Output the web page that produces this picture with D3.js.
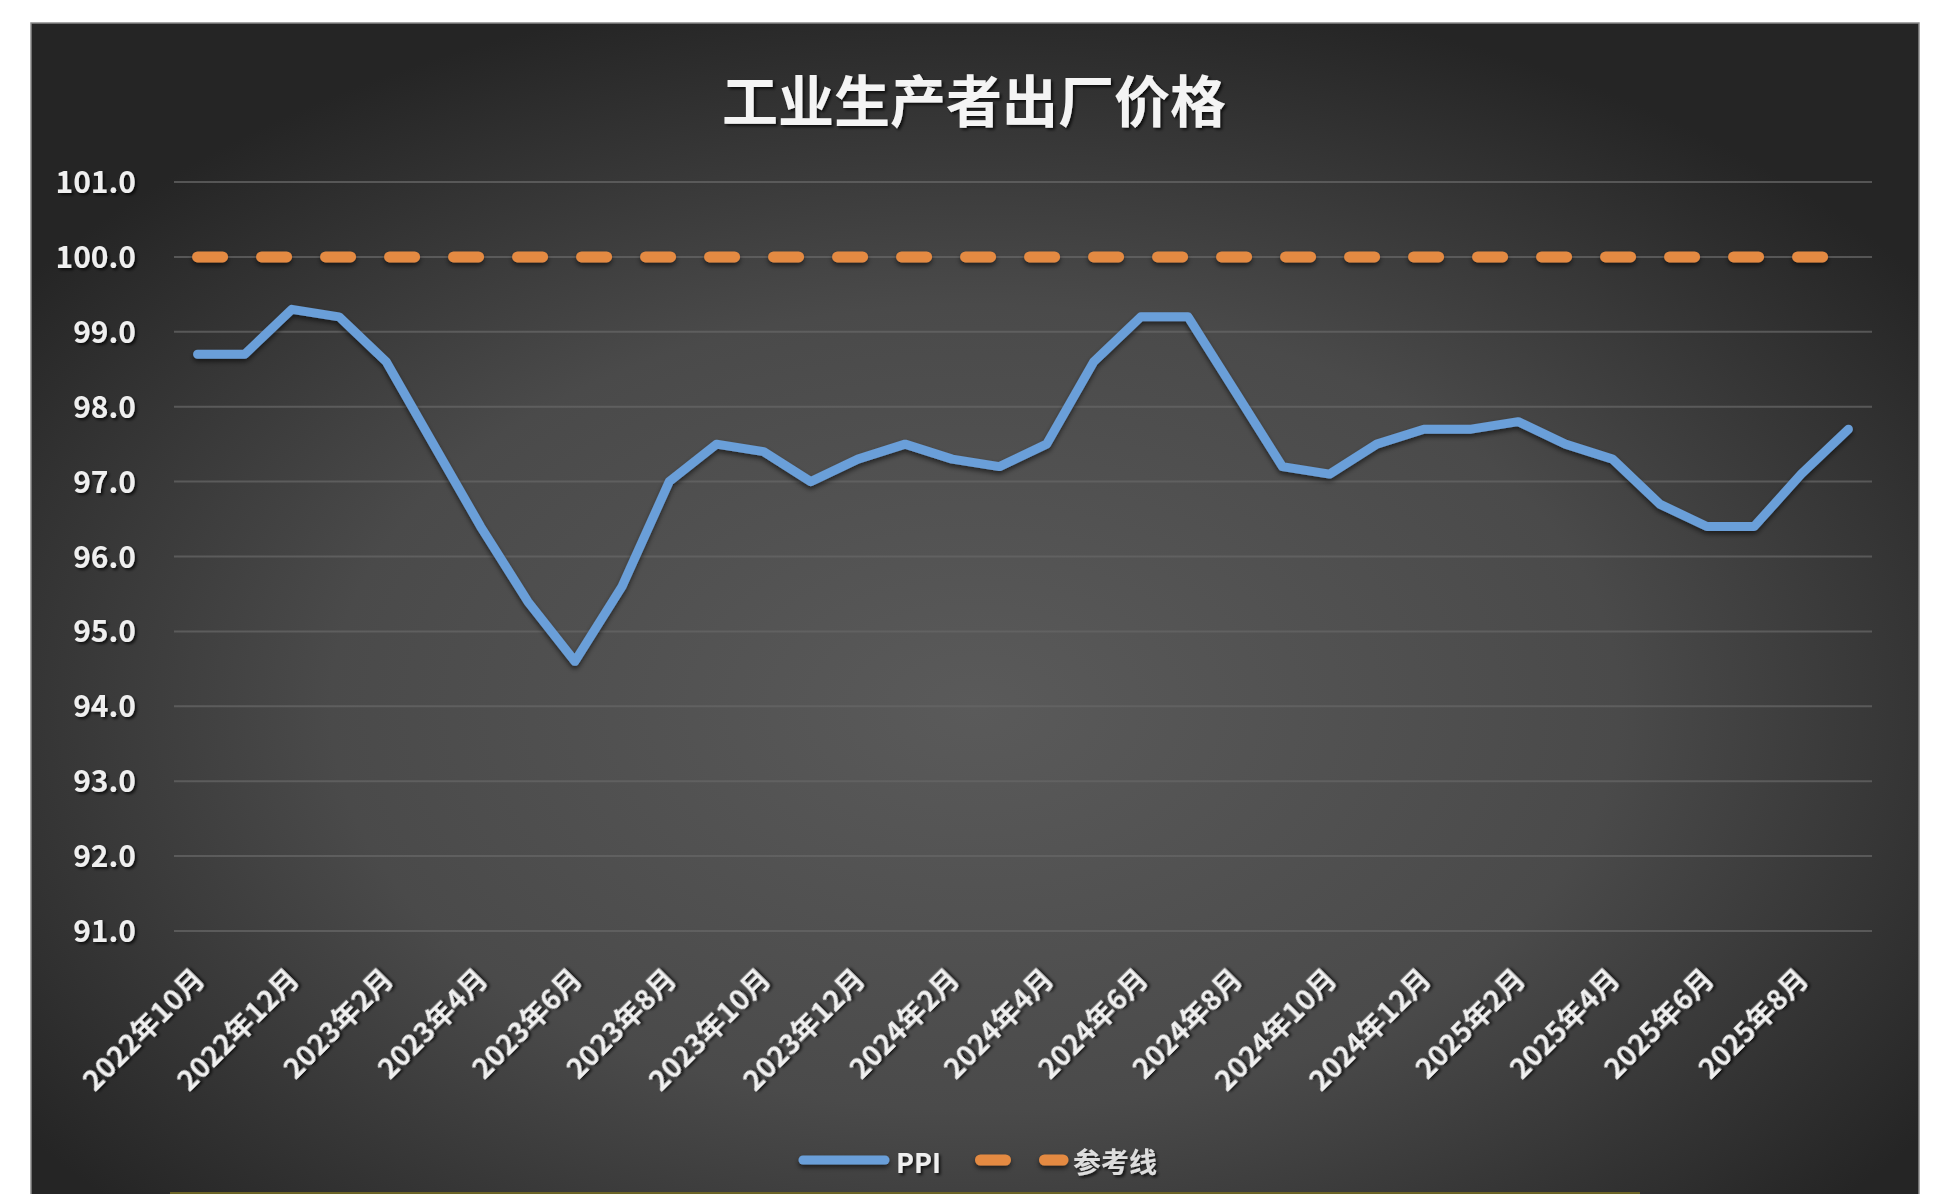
<!DOCTYPE html>
<html>
<head>
<meta charset="utf-8">
<script src="https://cdn.jsdelivr.net/npm/d3@7/dist/d3.min.js"></script>
<style>
  html, body { margin: 0; padding: 0; background: #ffffff; }
  svg { display: block; }
  text { font-family: "Noto Sans CJK SC", "Noto Sans", sans-serif; }
</style>
</head>
<body>
<svg id="chart" width="1948" height="1194"></svg>
<script>
// ---- data ----
const categories = [
  "2022年10月","2022年11月","2022年12月",
  "2023年1月","2023年2月","2023年3月","2023年4月","2023年5月","2023年6月",
  "2023年7月","2023年8月","2023年9月","2023年10月","2023年11月","2023年12月",
  "2024年1月","2024年2月","2024年3月","2024年4月","2024年5月","2024年6月",
  "2024年7月","2024年8月","2024年9月","2024年10月","2024年11月","2024年12月",
  "2025年1月","2025年2月","2025年3月","2025年4月","2025年5月","2025年6月",
  "2025年7月","2025年8月","2025年9月"
];
const ppiValues = [
  98.7, 98.7, 99.3,
  99.2, 98.6, 97.5, 96.4, 95.4, 94.6,
  95.6, 97.0, 97.5, 97.4, 97.0, 97.3,
  97.5, 97.3, 97.2, 97.5, 98.6, 99.2,
  99.2, 98.2, 97.2, 97.1, 97.5, 97.7,
  97.7, 97.8, 97.5, 97.3, 96.7, 96.4,
  96.4, 97.1, 97.7
];
const referenceValues = categories.map(() => 100);
const yTicks = [91, 92, 93, 94, 95, 96, 97, 98, 99, 100, 101];
const xTickLabels = categories.filter((d, i) => i % 2 === 0);
const seriesNames = ["PPI", "参考线"];
const title = "工业生产者出厂价格";

// ---- layout ----
const W = 1948, H = 1194;
const bg = { x: 31, y: 23, w: 1888, h: 1180 };
const plot = { left: 174, right: 1872, top: 182, bottom: 931 };
const blue = "#6b9fd9", orange = "#e48a42", textColor = "#efefef";

const svg = d3.select("#chart");
const defs = svg.append("defs");

const grad = defs.append("radialGradient").attr("id", "bgGrad")
  .attr("cx", "50%").attr("cy", "58%").attr("r", "62%");
grad.append("stop").attr("offset", "0%").attr("stop-color", "#5a5a5a");
grad.append("stop").attr("offset", "55%").attr("stop-color", "#4a4a4a");
grad.append("stop").attr("offset", "100%").attr("stop-color", "#252525");

const lineShadow = defs.append("filter").attr("id", "lineShadow")
  .attr("filterUnits", "userSpaceOnUse")
  .attr("x", 0).attr("y", 0).attr("width", W).attr("height", H);
lineShadow.append("feDropShadow").attr("dx", 0).attr("dy", 3).attr("stdDeviation", 2.5)
  .attr("flood-color", "#000").attr("flood-opacity", 0.55);

const textShadow = defs.append("filter").attr("id", "textShadow")
  .attr("x", "-10%").attr("y", "-30%").attr("width", "120%").attr("height", "160%");
textShadow.append("feDropShadow").attr("dx", 2).attr("dy", 2).attr("stdDeviation", 1.5)
  .attr("flood-color", "#000").attr("flood-opacity", 0.75);

// background
svg.append("rect").attr("x", bg.x).attr("y", bg.y).attr("width", bg.w).attr("height", bg.h)
  .attr("fill", "url(#bgGrad)").attr("stroke", "#8a8a8a").attr("stroke-width", 1.5);
svg.append("line").attr("x1", 170).attr("x2", 1640).attr("y1", 1193).attr("y2", 1193)
  .attr("stroke", "#6b6426").attr("stroke-width", 2);

// scales
const x = d3.scaleBand().domain(categories).range([plot.left, plot.right]).padding(0);
const cx = d => x(d) + x.bandwidth() / 2;
const y = d3.scaleLinear().domain([91, 101]).range([plot.bottom, plot.top]);

// gridlines
svg.append("g").selectAll("line").data(yTicks).join("line")
  .attr("x1", plot.left).attr("x2", plot.right)
  .attr("y1", d => y(d)).attr("y2", d => y(d))
  .attr("stroke", "#666666").attr("stroke-width", 2).attr("stroke-opacity", 0.75);

// y axis
const yAxis = svg.append("g").attr("transform", `translate(136,0)`)
  .call(d3.axisLeft(y).tickValues(yTicks).tickSize(0).tickPadding(0).tickFormat(d3.format(".1f")));
yAxis.select(".domain").remove();
yAxis.selectAll("text")
  .attr("fill", textColor).attr("font-size", 30).attr("font-weight", "bold")
  .attr("font-family", "'Noto Sans CJK SC', sans-serif")
  .attr("filter", "url(#textShadow)").attr("dy", "0.35em").attr("x", 0);

// x axis
const xAxis = svg.append("g").attr("transform", `translate(0,${plot.bottom})`)
  .call(d3.axisBottom(x).tickValues(xTickLabels).tickSize(0).tickPadding(0));
xAxis.select(".domain").remove();
xAxis.selectAll(".tick text")
  .attr("fill", textColor).attr("font-size", 28.5).attr("font-weight", "bold")
  .attr("font-family", "'Noto Sans CJK SC', sans-serif")
  .attr("text-anchor", "end").attr("dy", 0).attr("y", 0)
  .attr("transform", "translate(9,50) rotate(-45)")
  .attr("filter", "url(#textShadow)");

// lines
const lineGen = d3.line().x((d, i) => cx(categories[i])).y(d => y(d));
svg.append("path").datum(referenceValues)
  .attr("d", lineGen).attr("fill", "none").attr("stroke", orange)
  .attr("stroke-width", 11).attr("stroke-linecap", "round")
  .attr("stroke-dasharray", "25 39").attr("filter", "url(#lineShadow)");
svg.append("path").datum(ppiValues)
  .attr("d", lineGen).attr("fill", "none").attr("stroke", blue)
  .attr("stroke-width", 9).attr("stroke-linejoin", "round").attr("stroke-linecap", "round")
  .attr("filter", "url(#lineShadow)");

// title
svg.append("text").attr("x", 974).attr("y", 97).attr("text-anchor", "middle")
  .attr("dominant-baseline", "central")
  .attr("font-size", 56).attr("font-weight", "bold").attr("fill", "#f4f4f4")
  .attr("filter", "url(#textShadow)").text(title);

// legend
const lg = svg.append("g");
lg.append("line").attr("x1", 803).attr("x2", 885).attr("y1", 1160).attr("y2", 1160)
  .attr("stroke", blue).attr("stroke-width", 9).attr("stroke-linecap", "round")
  .attr("filter", "url(#lineShadow)");
lg.append("text").attr("x", 896).attr("y", 1161).attr("dominant-baseline", "central")
  .attr("font-size", 27).attr("font-weight", "bold").attr("fill", textColor)
  .attr("filter", "url(#textShadow)").text(seriesNames[0]);
lg.append("line").attr("x1", 980.5).attr("x2", 1063).attr("y1", 1160).attr("y2", 1160)
  .attr("stroke", orange).attr("stroke-width", 11).attr("stroke-linecap", "round")
  .attr("stroke-dasharray", "25 39").attr("filter", "url(#lineShadow)");
lg.append("text").attr("x", 1073).attr("y", 1161).attr("dominant-baseline", "central")
  .attr("font-size", 28).attr("font-weight", "bold").attr("fill", "#dddddd")
  .attr("filter", "url(#textShadow)").text(seriesNames[1]);
</script>
</body>
</html>
